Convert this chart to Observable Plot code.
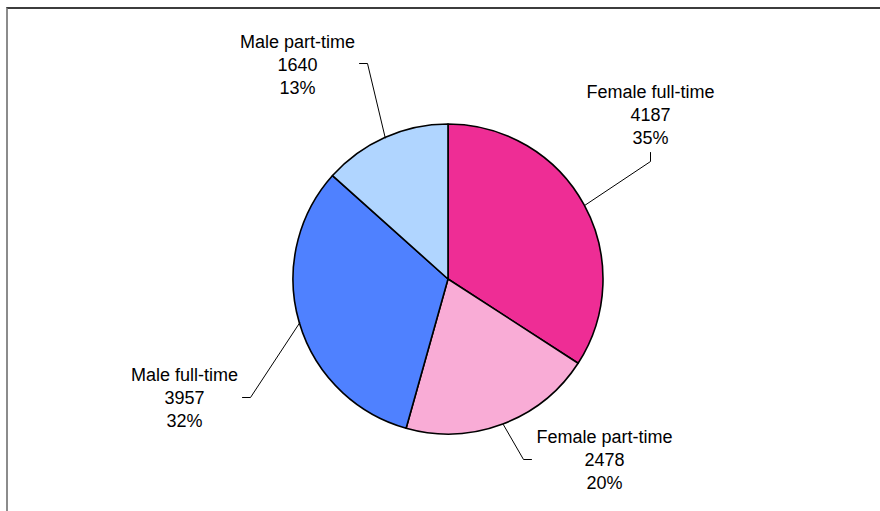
<!DOCTYPE html>
<html><head><meta charset="utf-8">
<script src="https://cdn.jsdelivr.net/npm/d3@7"></script>
<script src="https://cdn.jsdelivr.net/npm/@observablehq/plot@0.6"></script>
<style>
html,body{margin:0;padding:0;background:#fff;}
#wrap{position:relative;width:880px;height:511px;overflow:hidden;}
#chart{position:absolute;left:0;top:0;}
#frame{position:absolute;left:6px;top:7px;right:-10px;bottom:-10px;border-top:2px solid #3c3c3c;border-left:2px solid #8c8c8c;pointer-events:none;}
</style></head><body>
<div id="wrap"><div id="chart"></div><div id="frame"></div></div>
<script>
// ---- data ----
const categories = ["Female full-time", "Female part-time", "Male full-time", "Male part-time"];
const values = [4187, 2478, 3957, 1640];
const percentLabels = ["35%", "20%", "32%", "13%"];
const sliceColors = ["#EE2D95", "#F9ACD6", "#4F81FF", "#B0D5FF"];

// ---- layout (pixels relative to pie centre) ----
const W = 880, H = 511, CX = 448, CY = 279, R = 155;
const labelOffset = [[202, -166], [156, 179], [-264, 117], [-151, -216]];
const stubElbow = [[0, 48], [-81, 1], [66, 1], [70, 0]];
const stubEnd = [[0, 39], [-73, 1], [58, 1], [62, 0]];

const rows = categories.map((c, i) => ({cat: c, value: values[i], pct: percentLabels[i]}));
const arcs = d3.pie().sort(null).value(d => d.value)(rows);
const color = Plot.scale({color: {type: "ordinal", domain: categories, range: sliceColors}});

const labels = arcs.map((a, i) => ({
  x: labelOffset[i][0], y: labelOffset[i][1],
  text: `${a.data.cat}\n${a.data.value}\n${a.data.pct}`
}));
const leaders = arcs.flatMap((a, i) => {
  const m = (a.startAngle + a.endAngle) / 2;
  const lx = labelOffset[i][0], ly = labelOffset[i][1];
  return [
    {cat: a.data.cat, x: R * Math.sin(m), y: -R * Math.cos(m)},
    {cat: a.data.cat, x: lx + stubElbow[i][0], y: ly + stubElbow[i][1]},
    {cat: a.data.cat, x: lx + stubEnd[i][0], y: ly + stubEnd[i][1]}
  ];
});

function pieMark(index, scales) {
  const x = scales.x, y = scales.y;
  const cx = x(0), cy = y(0), r = x(R) - x(0);
  const arc = d3.arc().innerRadius(0).outerRadius(r);
  const g = d3.create("svg:g").attr("transform", `translate(${cx},${cy})`);
  g.selectAll("path").data(arcs).join("path")
    .attr("d", arc)
    .attr("fill", d => color.apply(d.data.cat))
    .attr("stroke", "#000")
    .attr("stroke-width", 1.6)
    .attr("stroke-linejoin", "round");
  return g.node();
}

const chart = Plot.plot({
  width: W, height: H, margin: 0,
  x: {domain: [-CX, W - CX], range: [0, W], axis: null},
  y: {domain: [-CY, H - CY], range: [0, H], axis: null},
  style: {fontFamily: "'Liberation Sans', Arial, sans-serif", background: "transparent", color: "#000"},
  marks: [
    pieMark,
    Plot.line(leaders, {x: "x", y: "y", z: "cat", stroke: "#000", strokeWidth: 1, curve: "linear"}),
    Plot.text(labels, {x: "x", y: "y", text: "text", fontSize: 18, lineHeight: 1.28, fill: "#000", textAnchor: "middle", lineAnchor: "middle"})
  ]
});
document.getElementById("chart").appendChild(chart);
</script>
</body></html>
